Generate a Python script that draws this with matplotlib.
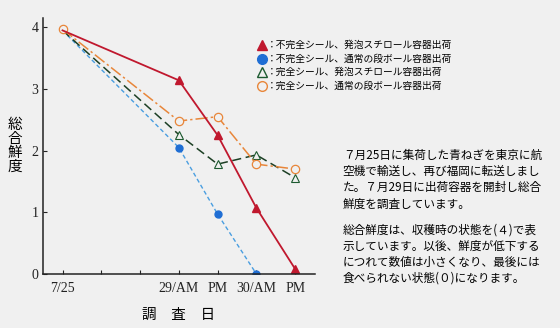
import matplotlib.pyplot as plt

plt.rcParams['font.family'] = ['Liberation Serif', 'Noto Sans CJK JP', 'DejaVu Sans']

# 調査日 (x positions 0..6, labels only on some)
tick_pos = [0, 1, 2, 3, 4, 5, 6]
tick_labels = ['7/25', '', '', '29/AM', 'PM', '30/AM', 'PM']

x_red = [0, 3, 4, 5, 6]
y_red = [3.95, 3.14, 2.25, 1.07, 0.08]

x_blue = [0, 3, 4, 5]
y_blue = [3.95, 2.05, 0.97, 0.0]

x_green = [0, 3, 4, 5, 6]
y_green = [3.95, 2.26, 1.78, 1.93, 1.56]

x_orange = [0, 3, 4, 5, 6]
y_orange = [3.97, 2.48, 2.55, 1.78, 1.70]

labels = ['：不完全シール、発泡スチロール容器出荷',
          '：不完全シール、通常の段ボール容器出荷',
          '：完全シール、発泡スチロール容器出荷',
          '：完全シール、通常の段ボール容器出荷']

bg = '#f0f0f0'
fig = plt.figure(figsize=(5.6, 3.28), dpi=100, facecolor=bg)
ax = fig.add_axes([0.077, 0.165, 0.486, 0.78])
ax.set_facecolor(bg)

ax.plot(x_blue, y_blue, color='#4a9ee0', lw=1.0, ls=(0, (3, 2)),
        marker='o', ms=5, mfc='#1f6ed4', mec='#1f6ed4', markevery=[1, 2, 3])
ax.plot(x_green, y_green, color='#1c3f24', lw=1.1, ls=(0, (6, 3)),
        marker='^', ms=5.5, mfc=bg, mec='#1c5a30', mew=0.8, markevery=[1, 2, 3, 4])
ax.plot(x_orange, y_orange, color='#e8863a', lw=1.1, ls=(0, (8, 2, 1.5, 2)),
        marker='o', ms=6, mfc=bg, mec='#e8863a', mew=0.9)
ax.plot(x_red, y_red, color='#c0182e', lw=1.3,
        marker='^', ms=6, mfc='#c0182e', mec='#c0182e', markevery=[1, 2, 3, 4])

ax.set_xlim(-0.5, 6.52)
ax.set_ylim(0, 4.15)
ax.set_xticks(tick_pos)
ax.set_xticklabels(tick_labels, fontsize=10)
ax.set_yticks([0, 1, 2, 3, 4])
ax.tick_params(direction='in', length=3, width=0.8, colors='#222222', labelsize=10)
ax.tick_params(axis='x', pad=6)
for s in ['top', 'right']:
    ax.spines[s].set_visible(False)
for s in ['left', 'bottom']:
    ax.spines[s].set_color('#222222')
    ax.spines[s].set_linewidth(1.1)

# 縦書きの軸ラベル
fig.text(0.027, 0.555, '総\n合\n鮮\n度', fontsize=10.5, ha='center', va='center',
         linespacing=1.0, family=['Noto Sans CJK JP'])
fig.text(0.318, 0.04, '調　査　日', fontsize=10.5, ha='center', va='center',
         family=['Noto Sans CJK JP'])

# 凡例
leg_y = [0.863, 0.821, 0.780, 0.738]
leg_marks = [('^', '#c0182e', '#c0182e'), ('o', '#1f6ed4', '#1f6ed4'),
             ('^', bg, '#1c5a30'), ('o', bg, '#e8863a')]
for yy, (m, fc, ec), lab in zip(leg_y, leg_marks, labels):
    fig.lines.append(plt.Line2D([0.468], [yy], marker=m, ms=7, mfc=fc, mec=ec,
                                mew=1.0, transform=fig.transFigure))
    fig.text(0.476, yy, lab, fontsize=7.0, va='center', family=['Noto Sans CJK JP'])

note1 = ('７月25日に集荷した青ねぎを東京に航\n'
         '空機で輸送し、再び福岡に転送しまし\n'
         'た。７月29日に出荷容器を開封し総合\n'
         '鮮度を調査しています。')
note2 = ('総合鮮度は、収穫時の状態を(４)で表\n'
         '示しています。以後、鮮度が低下する\n'
         'につれて数値は小さくなり、最後には\n'
         '食べられない状態(０)になります。')
fig.text(0.612, 0.545, note1, fontsize=8.4, va='top', ha='left', linespacing=1.31,
         family=['Noto Sans CJK JP'])
fig.text(0.612, 0.318, note2, fontsize=8.4, va='top', ha='left', linespacing=1.31,
         family=['Noto Sans CJK JP'])

fig.savefig('out.png', dpi=100, facecolor=bg)
